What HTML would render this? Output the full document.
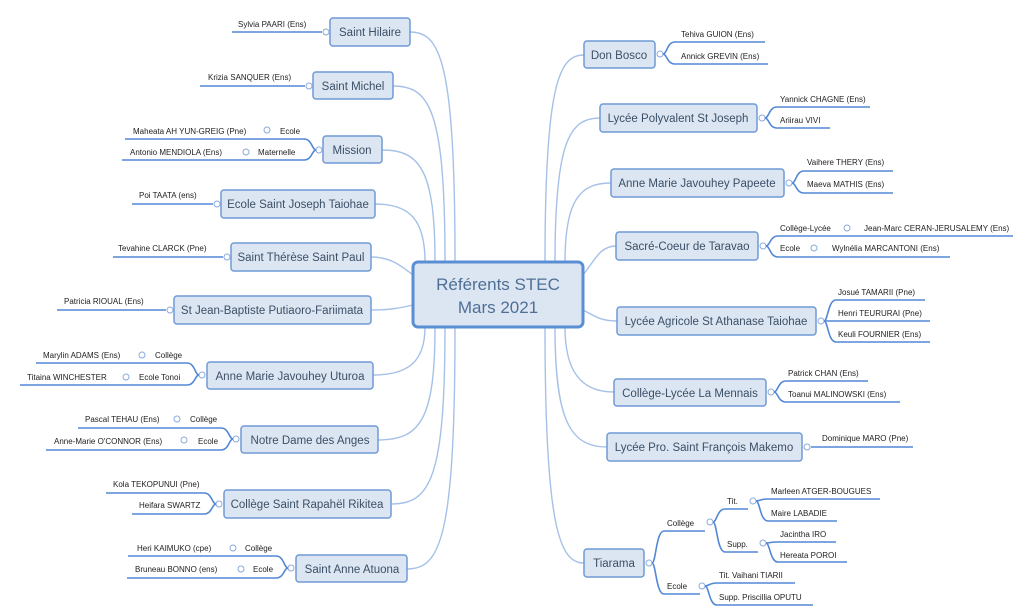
<!DOCTYPE html>
<html><head><meta charset="utf-8"><style>
html,body{margin:0;padding:0;background:#fff;width:1023px;height:612px;overflow:hidden}
svg{display:block}
.b{fill:#dce6f2;stroke:#6f9ad6;stroke-width:1.5}
.n{font-family:"Liberation Sans",sans-serif;font-size:11.5px;fill:#3b4f66;text-anchor:middle}
.l{font-family:"Liberation Sans",sans-serif;font-size:8px;fill:#222}
.c{fill:none;stroke:#a6c1e8;stroke-width:1.4}
.u{fill:none;stroke:#5287d6;stroke-width:1.6}
.o{fill:#fff;stroke:#8aaadc;stroke-width:1}
</style></head><body>
<svg width="1023" height="612" viewBox="0 0 1023 612">
<!-- center connectors left -->
<path class="c" d="M455 262 C455 60 440 32 410 32"/>
<path class="c" d="M445 262 C445 110 430 86 393 86"/>
<path class="c" d="M435 262 C435 170 420 150 382 150"/>
<path class="c" d="M425 262 C425 220 410 204 375 204"/>
<path class="c" d="M413 275 C400 265 390 257 371 257"/>
<path class="c" d="M413 305 C400 308 390 310 371 310"/>
<path class="c" d="M425 327 C425 360 410 375 373 375"/>
<path class="c" d="M435 327 C435 420 420 440 378 440"/>
<path class="c" d="M445 327 C445 480 430 504 391 504"/>
<path class="c" d="M455 327 C455 540 440 569 407 569"/>
<!-- right -->
<path class="c" d="M545 262 C545 80 560 55 584 55"/>
<path class="c" d="M555 262 C555 140 570 118 600 118"/>
<path class="c" d="M565 262 C565 200 580 183 611 183"/>
<path class="c" d="M583 275 C595 260 600 246 616 246"/>
<path class="c" d="M583 310 C595 316 600 321 617 321"/>
<path class="c" d="M565 327 C565 370 580 392 614 392"/>
<path class="c" d="M555 327 C555 420 570 447 607 447"/>
<path class="c" d="M545 327 C545 530 560 563 584 563"/>

<!-- center -->
<rect x="413" y="262" width="170" height="65" rx="5" fill="#dce6f2" stroke="#5a8fd3" stroke-width="3"/>
<text x="498" y="290" class="n" style="font-size:17px;fill:#4f6f96">Référents STEC</text>
<text x="498" y="313" class="n" style="font-size:17px;fill:#4f6f96">Mars 2021</text>

<!-- LEFT -->
<rect class="b" x="330" y="18" width="80" height="28" rx="3"/><text class="n" x="370" y="36">Saint Hilaire</text>
<path class="u" d="M232 32 L322 32"/><circle class="o" cx="326" cy="32" r="3"/><text class="l" x="238" y="27">Sylvia PAARI (Ens)</text>

<rect class="b" x="313" y="72" width="80" height="27" rx="3"/><text class="n" x="353" y="90">Saint Michel</text>
<path class="u" d="M200 86 L305 86"/><circle class="o" cx="309" cy="86" r="3"/><text class="l" x="208" y="80">Krizia SANQUER (Ens)</text>

<rect class="b" x="323" y="136" width="59" height="27" rx="3"/><text class="n" x="352" y="154">Mission</text>
<circle class="o" cx="319" cy="150" r="3"/>
<path class="u" d="M316 150 C312 150 312 139 304 139 L125 139"/>
<path class="u" d="M316 150 C312 150 312 160 304 160 L122 160"/>
<text class="l" x="280" y="134">Ecole</text><circle class="o" cx="267" cy="130" r="3"/><text class="l" x="133" y="134">Maheata AH YUN-GREIG (Pne)</text>
<text class="l" x="258" y="155">Maternelle</text><circle class="o" cx="246" cy="152" r="3"/><text class="l" x="130" y="155">Antonio MENDIOLA (Ens)</text>

<rect class="b" x="221" y="190" width="154" height="28" rx="3"/><text class="n" x="298" y="208">Ecole Saint Joseph Taiohae</text>
<path class="u" d="M132 204 L213 204"/><circle class="o" cx="217" cy="204" r="3"/><text class="l" x="139" y="198">Poi TAATA (ens)</text>

<rect class="b" x="231" y="243" width="140" height="28" rx="3"/><text class="n" x="301" y="261">Saint Thérèse Saint Paul</text>
<path class="u" d="M113 257 L223 257"/><circle class="o" cx="227" cy="257" r="3"/><text class="l" x="118" y="251">Tevahine CLARCK (Pne)</text>

<rect class="b" x="174" y="296" width="197" height="28" rx="3"/><text class="n" x="272" y="314">St Jean-Baptiste Putiaoro-Fariimata</text>
<path class="u" d="M57 310 L166 310"/><circle class="o" cx="170" cy="310" r="3"/><text class="l" x="64" y="304">Patricia RIOUAL (Ens)</text>

<rect class="b" x="207" y="362" width="166" height="27" rx="3"/><text class="n" x="290" y="380">Anne Marie Javouhey Uturoa</text>
<circle class="o" cx="202" cy="375" r="3"/>
<path class="u" d="M199 375 C195 375 195 363 187 363 L36 363"/>
<path class="u" d="M199 375 C195 375 195 385 187 385 L20 385"/>
<text class="l" x="155" y="358">Collège</text><circle class="o" cx="142" cy="355" r="3"/><text class="l" x="43" y="358">Marylin ADAMS (Ens)</text>
<text class="l" x="139" y="380">Ecole Tonoi</text><circle class="o" cx="126" cy="377" r="3"/><text class="l" x="27" y="380">Titaina WINCHESTER</text>

<rect class="b" x="241" y="426" width="137" height="27" rx="3"/><text class="n" x="310" y="444">Notre Dame des Anges</text>
<circle class="o" cx="236" cy="439" r="3"/>
<path class="u" d="M233 439 C229 439 229 428 221 428 L78 428"/>
<path class="u" d="M233 439 C229 439 229 450 221 450 L46 450"/>
<text class="l" x="190" y="422">Collège</text><circle class="o" cx="177" cy="419" r="3"/><text class="l" x="85" y="422">Pascal TEHAU (Ens)</text>
<text class="l" x="198" y="444">Ecole</text><circle class="o" cx="184" cy="440" r="3"/><text class="l" x="54" y="444">Anne-Marie O'CONNOR (Ens)</text>

<rect class="b" x="224" y="490" width="167" height="28" rx="3"/><text class="n" x="307" y="508">Collège Saint Rapahël Rikitea</text>
<circle class="o" cx="219" cy="504" r="3"/>
<path class="u" d="M216 504 C212 504 212 493 204 493 L106 493"/>
<path class="u" d="M216 504 C212 504 212 514 204 514 L132 514"/>
<text class="l" x="113" y="487">Kola TEKOPUNUI (Pne)</text>
<text class="l" x="139" y="508">Heifara SWARTZ</text>

<rect class="b" x="296" y="555" width="111" height="27" rx="3"/><text class="n" x="352" y="573">Saint Anne Atuona</text>
<circle class="o" cx="291" cy="568" r="3"/>
<path class="u" d="M288 568 C284 568 284 556 276 556 L128 556"/>
<path class="u" d="M288 568 C284 568 284 578 276 578 L127 578"/>
<text class="l" x="245" y="551">Collège</text><circle class="o" cx="233" cy="548" r="3"/><text class="l" x="137" y="551">Heri KAIMUKO (cpe)</text>
<text class="l" x="253" y="572">Ecole</text><circle class="o" cx="241" cy="569" r="3"/><text class="l" x="135" y="572">Bruneau BONNO (ens)</text>

<!-- RIGHT -->
<rect class="b" x="584" y="41" width="71" height="27" rx="3"/><text class="n" x="619" y="59">Don Bosco</text>
<circle class="o" cx="660" cy="54" r="3"/>
<path class="u" d="M663 54 C667 54 667 42 675 42 L765 42"/>
<path class="u" d="M663 54 C667 54 667 64 675 64 L768 64"/>
<text class="l" x="681" y="37">Tehiva GUION (Ens)</text><text class="l" x="681" y="59">Annick GREVIN (Ens)</text>

<rect class="b" x="600" y="104" width="157" height="28" rx="3"/><text class="n" x="678" y="122">Lycée Polyvalent St Joseph</text>
<circle class="o" cx="762" cy="118" r="3"/>
<path class="u" d="M765 118 C769 118 769 107 777 107 L870 107"/>
<path class="u" d="M765 118 C769 118 769 128 777 128 L830 128"/>
<text class="l" x="780" y="102">Yannick CHAGNE (Ens)</text><text class="l" x="780" y="123">Ariirau VIVI</text>

<rect class="b" x="611" y="169" width="173" height="28" rx="3"/><text class="n" x="697" y="187">Anne Marie Javouhey Papeete</text>
<circle class="o" cx="789" cy="183" r="3"/>
<path class="u" d="M792 183 C796 183 796 171 804 171 L893 171"/>
<path class="u" d="M792 183 C796 183 796 193 804 193 L893 193"/>
<text class="l" x="807" y="165">Vaihere THERY (Ens)</text><text class="l" x="807" y="187">Maeva MATHIS (Ens)</text>

<rect class="b" x="616" y="232" width="142" height="28" rx="3"/><text class="n" x="687" y="250">Sacré-Coeur de Taravao</text>
<circle class="o" cx="763" cy="246" r="3"/>
<path class="u" d="M766 246 C770 246 770 236 778 236 L1013 236"/>
<path class="u" d="M766 246 C770 246 770 257 778 257 L950 257"/>
<text class="l" x="780" y="231">Collège-Lycée</text><circle class="o" cx="847" cy="228" r="3"/><text class="l" x="864" y="231">Jean-Marc CERAN-JERUSALEMY (Ens)</text>
<text class="l" x="780" y="251">Ecole</text><circle class="o" cx="814" cy="248" r="3"/><text class="l" x="832" y="251">Wylnélia MARCANTONI (Ens)</text>

<rect class="b" x="617" y="307" width="199" height="28" rx="3"/><text class="n" x="716" y="325">Lycée Agricole St Athanase Taiohae</text>
<circle class="o" cx="821" cy="321" r="3"/>
<path class="u" d="M824 321 C828 321 828 300 836 300 L925 300"/>
<path class="u" d="M824 321 L930 321"/>
<path class="u" d="M824 321 C828 321 828 342 836 342 L930 342"/>
<text class="l" x="838" y="295">Josué TAMARII (Pne)</text><text class="l" x="838" y="316">Henri TEURURAI (Pne)</text><text class="l" x="838" y="337">Keuli FOURNIER (Ens)</text>

<rect class="b" x="614" y="379" width="152" height="27" rx="3"/><text class="n" x="690" y="397">Collège-Lycée La Mennais</text>
<circle class="o" cx="771" cy="392" r="3"/>
<path class="u" d="M774 392 C778 392 778 381 786 381 L868 381"/>
<path class="u" d="M774 392 C778 392 778 402 786 402 L900 402"/>
<text class="l" x="788" y="376">Patrick CHAN (Ens)</text><text class="l" x="788" y="397">Toanui MALINOWSKI (Ens)</text>

<rect class="b" x="607" y="433" width="195" height="28" rx="3"/><text class="n" x="704" y="451">Lycée Pro. Saint François Makemo</text>
<path class="u" d="M811 447 L913 447"/><circle class="o" cx="807" cy="447" r="3"/><text class="l" x="822" y="441">Dominique MARO (Pne)</text>

<rect class="b" x="584" y="549" width="60" height="28" rx="3"/><text class="n" x="614" y="567">Tiarama</text>
<circle class="o" cx="649" cy="563" r="3"/>
<path class="u" d="M652 563 C656 563 656 531 664 531 L705 531"/>
<path class="u" d="M652 563 C656 563 656 594 664 594 L700 594"/>
<text class="l" x="667" y="526">Collège</text><circle class="o" cx="710" cy="522" r="3"/>
<path class="u" d="M713 522 C717 522 717 509 725 509 L748 509"/>
<path class="u" d="M713 522 C717 522 717 552 725 552 L758 552"/>
<text class="l" x="727" y="504">Tit.</text><circle class="o" cx="753" cy="501" r="3"/>
<path class="u" d="M756 501 C760 501 760 499 768 499 L880 499"/>
<path class="u" d="M756 501 C760 501 760 521 768 521 L837 521"/>
<text class="l" x="771" y="494">Marleen ATGER-BOUGUES</text><text class="l" x="771" y="516">Maire LABADIE</text>
<text class="l" x="727" y="547">Supp.</text><circle class="o" cx="763" cy="543" r="3"/>
<path class="u" d="M766 543 C770 543 770 542 778 542 L836 542"/>
<path class="u" d="M766 543 C770 543 770 562 778 562 L847 562"/>
<text class="l" x="780" y="537">Jacintha IRO</text><text class="l" x="780" y="558">Hereata POROI</text>
<text class="l" x="667" y="589">Ecole</text><circle class="o" cx="702" cy="586" r="3"/>
<path class="u" d="M705 586 C709 586 709 583 717 583 L795 583"/>
<path class="u" d="M705 586 C709 586 709 605 717 605 L813 605"/>
<text class="l" x="719" y="578">Tit. Vaihani TIARII</text><text class="l" x="719" y="600">Supp. Priscillia OPUTU</text>
</svg>
</body></html>
